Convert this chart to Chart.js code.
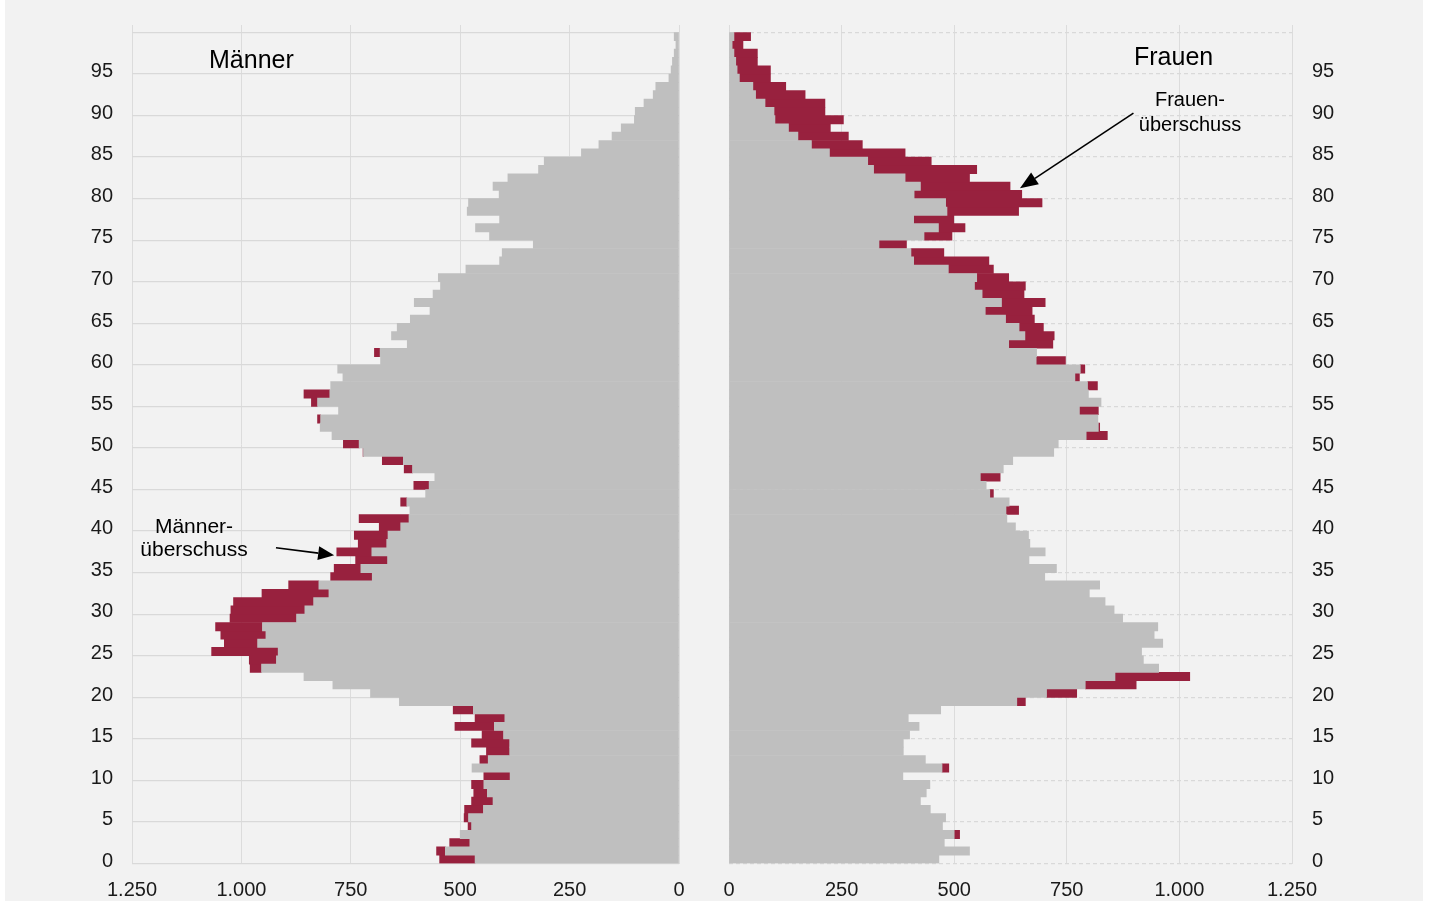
<!DOCTYPE html>
<html lang="de">
<head>
<meta charset="utf-8">
<title>Bevölkerungspyramide</title>
<script src="https://cdn.jsdelivr.net/npm/chart.js@4.4.1/dist/chart.umd.min.js"></script>
<style>
  html, body { margin: 0; padding: 0; background: #fff; }
  #panel { position: absolute; left: 5px; top: 0; width: 1418px; height: 901px; background: #f2f2f2; overflow: hidden; }
  .box { position: absolute; top: 0; height: 901px; }
  #boxM { left: 0; width: 695px; }
  #boxF { left: 700px; width: 718px; }
  .txt { position: absolute; font-family: "Liberation Sans", Arial, sans-serif; color: #000; white-space: nowrap; }
</style>
</head>
<body>
<div id="panel">
  <div class="box" id="boxM"><canvas id="chartM"></canvas></div>
  <div class="box" id="boxF"><canvas id="chartF"></canvas></div>
  <div class="txt" style="left:204px; top:47px; font-size:25px; line-height:25px;">Männer</div>
  <div class="txt" style="left:1129px; top:44px; font-size:25px; line-height:25px;">Frauen</div>
  <div class="txt" style="left:89px; top:514px; width:200px; text-align:center; font-size:21px; line-height:23.4px;">Männer-<br>überschuss</div>
  <div class="txt" style="left:1085px; top:87px; width:200px; text-align:center; font-size:20px; line-height:25px;">Frauen-<br>überschuss</div>
</div>
<script>
// Bevölkerung nach Alter (0 bis 99)

const alter = Array.from({ length: 100 }, (_, i) => i);

const maenner = [
  547, 554, 524, 500, 482, 491, 490, 474, 469, 474,
  446, 473, 455, 440, 474, 450, 512, 466, 516, 639,
  705, 791, 857, 980, 982, 1068, 1039, 1047, 1059, 1026,
  1024, 1018, 953, 892, 796, 788, 739, 782, 733, 742,
  685, 731, 615, 636, 579, 606, 558, 628, 678, 722,
  767, 793, 820, 826, 778, 840, 857, 796, 768, 780,
  682, 696, 621, 657, 644, 614, 569, 605, 562, 545,
  550, 487, 410, 404, 333, 433, 465, 410, 484, 481,
  411, 425, 391, 321, 308, 223, 183, 153, 132, 102,
  100, 80, 59, 53, 23, 18, 15, 11, 7, 11
];

const frauen = [
  466, 534, 478, 512, 474, 481, 447, 425, 438, 446,
  386, 488, 436, 387, 387, 401, 422, 398, 470, 658,
  772, 904, 1023, 954, 920, 916, 963, 944, 952, 874,
  855, 835, 800, 823, 701, 727, 666, 702, 668, 665,
  636, 617, 643, 622, 587, 571, 602, 609, 630, 721,
  731, 840, 823, 819, 820, 826, 798, 818, 778, 790,
  747, 683, 719, 722, 698, 678, 673, 702, 655, 658,
  621, 587, 577, 477, 394, 495, 524, 499, 643, 695,
  650, 624, 534, 550, 449, 391, 296, 265, 225, 254,
  213, 213, 169, 126, 92, 92, 63, 63, 31, 48
];

// Achsenbeschriftungen
const alterTicks = [0, 5, 10, 15, 20, 25, 30, 35, 40, 45, 50, 55, 60, 65, 70, 75, 80, 85, 90, 95];
const wertTicks = [0, 250, 500, 750, 1000, 1250];

const GRAU = "#bfbfbf";
const ROT = "#98213e";
const SCHRIFT = "'Liberation Sans', Arial, sans-serif";

// Gitterlinien liegen zwischen den Altersbalken
const gitterAlter = alterTicks.map(a => a - 0.5).concat([99.5]);

function fmt(v) {
  return String(v).replace(/\B(?=(\d{3})+(?!\d))/g, ".");
}

// gemeinsamer Teil (Minimum beider Geschlechter) in grau, Überschuss in rot
const grauDaten = alter.map((a, i) => ({ y: a, x: [0, Math.min(maenner[i], frauen[i])] }));
const rotM = alter.filter((a, i) => maenner[i] > frauen[i]).map(a => ({ y: a, x: [frauen[a], maenner[a]] }));
const rotF = alter.filter((a, i) => frauen[i] > maenner[i]).map(a => ({ y: a, x: [maenner[a], frauen[a]] }));

// Pfeil für die Beschriftung, in Datenkoordinaten
const pfeilPlugin = {
  id: "pfeil",
  afterDatasetsDraw(chart, args, opts) {
    if (!opts || !opts.von) return;
    const sx = chart.scales.x, sy = chart.scales.y;
    const x0 = sx.getPixelForValue(opts.von[0]), y0 = sy.getPixelForValue(opts.von[1]);
    const x1 = sx.getPixelForValue(opts.nach[0]), y1 = sy.getPixelForValue(opts.nach[1]);
    const ang = Math.atan2(y1 - y0, x1 - x0);
    const len = opts.len || 16, halb = opts.halb || 7;
    const bx = x1 - len * Math.cos(ang), by = y1 - len * Math.sin(ang);
    const ctx = chart.ctx;
    ctx.save();
    ctx.strokeStyle = "#000";
    ctx.fillStyle = "#000";
    ctx.lineWidth = 1.6;
    ctx.beginPath();
    ctx.moveTo(x0, y0);
    ctx.lineTo(bx, by);
    ctx.stroke();
    ctx.beginPath();
    ctx.moveTo(x1, y1);
    ctx.lineTo(bx + halb * Math.sin(ang), by - halb * Math.cos(ang));
    ctx.lineTo(bx - halb * Math.sin(ang), by + halb * Math.cos(ang));
    ctx.closePath();
    ctx.fill();
    ctx.restore();
  }
};

function makeChart(id, seite) {
  const links = seite === "links";
  const ctx = document.getElementById(id).getContext("2d");
  return new Chart(ctx, {
    type: "bar",
    data: {
      datasets: [
        { data: grauDaten, backgroundColor: GRAU },
        { data: links ? rotM : rotF, backgroundColor: ROT }
      ]
    },
    options: {
      indexAxis: "y",
      animation: false,
      responsive: true,
      maintainAspectRatio: false,
      layout: { padding: { top: 25, bottom: 0, left: links ? 0 : 24, right: links ? 21 : 0 } },
      datasets: {
        bar: { grouped: false, barPercentage: 1, categoryPercentage: 1, borderWidth: 0 }
      },
      scales: {
        x: {
          type: "linear",
          reverse: links,
          min: 0,
          max: 1250,
          afterBuildTicks: s => { s.ticks = wertTicks.map(v => ({ value: v })); },
          ticks: { padding: 14.5, color: "#1a1a1a", font: { size: 20, family: SCHRIFT }, callback: v => fmt(v), maxRotation: 0 },
          grid: { color: "#dcdcdc", lineWidth: 1, drawTicks: false },
          border: { display: false },
          afterFit: s => { s.height = 37.5; s.paddingLeft = 0; s.paddingRight = 0; }
        },
        y: {
          type: "linear",
          position: links ? "left" : "right",
          bounds: "data",
          min: -0.5,
          max: 100.4,
          offset: false,
          afterBuildTicks: s => { s.ticks = gitterAlter.map(v => ({ value: v })); },
          ticks: {
            padding: links ? 19 : 20,
            labelOffset: -2.3,
            autoSkip: false,
            color: "#1a1a1a",
            font: { size: 20, family: SCHRIFT },
            callback: v => (alterTicks.includes(v + 0.5) ? String(v + 0.5) : "")
          },
          grid: {
            color: "#d9d9d9",
            lineWidth: 1.3,
            drawTicks: false,
            offset: false
          },
          border: { display: false, dash: links ? [] : [4, 3] },
          afterFit: s => { s.width = links ? 127 : 131; s.paddingTop = 0; s.paddingBottom = 0; }
        }
      },
      plugins: {
        legend: { display: false },
        tooltip: { enabled: false },
        pfeil: links
          ? { von: [921, 37.5], nach: [788, 36.6], len: 16, halb: 7 }
          : { von: [898, 89.8], nach: [646, 80.75], len: 18, halb: 7 }
      }
    },
    plugins: [pfeilPlugin]
  });
}

const chartM = makeChart("chartM", "links");
const chartF = makeChart("chartF", "rechts");
</script>
</body>
</html>
